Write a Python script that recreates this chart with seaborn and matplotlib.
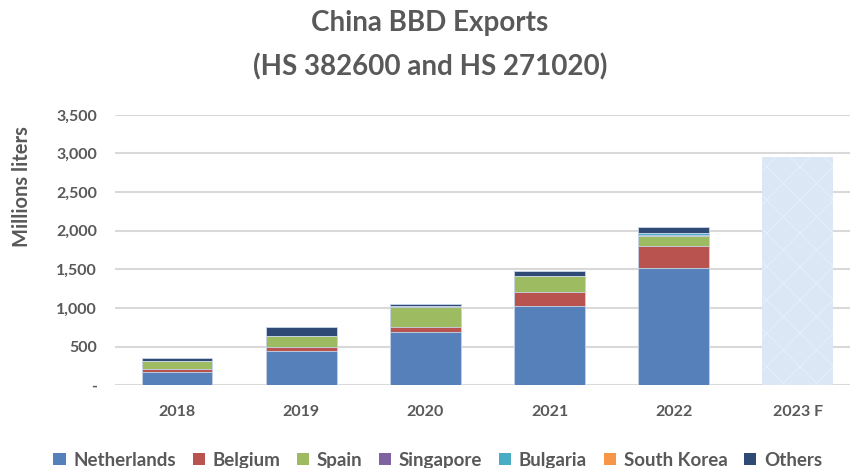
import numpy as np
import matplotlib
matplotlib.use('Agg')
import matplotlib.pyplot as plt
from matplotlib.patches import Patch
from matplotlib.ticker import FuncFormatter
import seaborn as sns

years = ['2018', '2019', '2020', '2021', '2022', '2023 F']
netherlands = [176, 440, 686, 1022, 1520, 0]
belgium = [31, 60, 73, 190, 280, 0]
spain = [103, 142, 259, 207, 130, 0]
singapore = [0, 0, 5, 0, 20, 0]
bulgaria = [0, 0, 0, 0, 15, 0]
south_korea = [0, 0, 0, 0, 12, 0]
others = [43, 108, 25, 56, 73, 0]
forecast = [0, 0, 0, 0, 0, 2950]

series = [
    ('Netherlands', netherlands, '#5580b9'),
    ('Belgium', belgium, '#b9534f'),
    ('Spain', spain, '#9dbb61'),
    ('Singapore', singapore, '#7f63a1'),
    ('Bulgaria', bulgaria, '#4bacc6'),
    ('South Korea', south_korea, '#f79646'),
    ('Others', others, '#2f4a75'),
]

sns.set_theme(style='white')
plt.rcParams['font.family'] = ['Lato', 'DejaVu Sans']
plt.rcParams['hatch.linewidth'] = 0.6
txt_col = '#595959'

fig = plt.figure(figsize=(8.5, 4.68), dpi=100)
ax = fig.add_axes([115 / 850, 0.1767, 735 / 850, 0.578])

# gridlines behind
ax.set_axisbelow(True)
ax.yaxis.grid(True, color='#d9d9d9', linewidth=1.5)

# forecast bar (textured light blue)
sns.barplot(x=years, y=forecast, order=years, color='#dbe7f5', saturation=1,
            width=0.57, ax=ax, linewidth=0, hatch='x', edgecolor='#e8f0fa')

# stacked bars: draw cumulative totals from the top down
cum = np.cumsum([s[1] for s in series], axis=0)
for i in range(len(series) - 1, -1, -1):
    sns.barplot(x=years, y=cum[i], order=years, color=series[i][2], saturation=1,
                width=0.57, ax=ax, linewidth=0.6, edgecolor='#c9d7ea')

ax.set_ylim(0, 3500)
ax.set_xlim(-0.5, 5.42)
ax.set_yticks(range(0, 3501, 500))
ax.yaxis.set_major_formatter(FuncFormatter(lambda v, p: '-' if v == 0 else f'{int(v):,}'))
for s in ax.spines.values():
    s.set_visible(False)
ax.tick_params(axis='x', length=0, labelsize=11.5, colors=txt_col, pad=14)
ax.tick_params(axis='y', length=0, labelsize=11.5, colors=txt_col, pad=13)
for lbl in ax.get_xticklabels() + ax.get_yticklabels():
    lbl.set_fontweight('bold')
ax.set_xlabel('')
ax.set_ylabel('')

fig.text(22 / 850, 1 - 187 / 468, 'Millions liters', rotation=90, ha='center', va='center',
         fontsize=14.5, fontweight='bold', color=txt_col)

fig.text(0.506, 0.951, 'China BBD Exports', ha='center', va='center',
         fontsize=20, fontweight='bold', color=txt_col)
fig.text(0.506, 0.857, '(HS 382600 and HS 271020)', ha='center', va='center',
         fontsize=20, fontweight='bold', color=txt_col)

handles = [Patch(facecolor=c, edgecolor='none', label=n) for n, _, c in series]
fig.legend(handles=handles, loc='center', bbox_to_anchor=(0.515, 0.017), ncol=7,
           frameon=False, handlelength=0.65, handleheight=0.65,
           handletextpad=0.4, columnspacing=0.9,
           prop={'weight': 'bold', 'size': 13.5})
for t in fig.legends[0].get_texts():
    t.set_color(txt_col)

fig.savefig('out.png', dpi=100)
